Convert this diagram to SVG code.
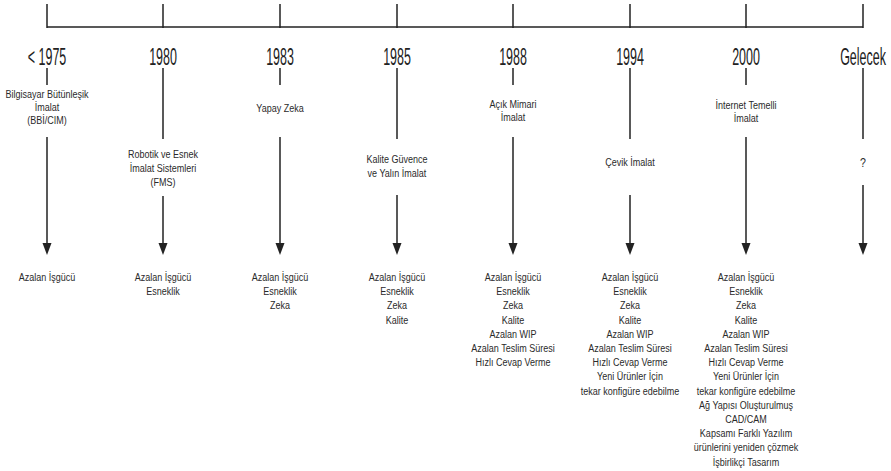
<svg xmlns="http://www.w3.org/2000/svg" width="891" height="471" viewBox="0 0 891 471">
<style>
.ln{stroke:#222;stroke-width:1.5;fill:none}
.yr{font-family:"Liberation Sans",Arial,sans-serif;font-size:24px;fill:#222;text-anchor:middle}
.tx{font-family:"Liberation Sans",Arial,sans-serif;font-size:11px;fill:#2a2a2a;text-anchor:middle}
.hd{fill:#222}
</style>
<rect width="891" height="471" fill="#fff"/>
<g id="timeline">
<line class="ln" x1="47" y1="27" x2="863" y2="27"/>
<line class="ln" x1="47" y1="4" x2="47" y2="28"/>
<line class="ln" x1="163" y1="4" x2="163" y2="28"/>
<line class="ln" x1="280" y1="4" x2="280" y2="28"/>
<line class="ln" x1="397" y1="4" x2="397" y2="28"/>
<line class="ln" x1="513" y1="4" x2="513" y2="28"/>
<line class="ln" x1="630" y1="4" x2="630" y2="28"/>
<line class="ln" x1="746" y1="4" x2="746" y2="28"/>
<line class="ln" x1="863" y1="4" x2="863" y2="28"/>
</g>
<g id="connectors">
<line class="ln" x1="47" y1="68" x2="47" y2="85"/>
<line class="ln" x1="163" y1="68" x2="163" y2="139"/>
<line class="ln" x1="280" y1="68" x2="280" y2="85"/>
<line class="ln" x1="397" y1="68" x2="397" y2="139"/>
<line class="ln" x1="513" y1="68" x2="513" y2="85"/>
<line class="ln" x1="630" y1="68" x2="630" y2="139"/>
<line class="ln" x1="746" y1="68" x2="746" y2="85"/>
<line class="ln" x1="863" y1="68" x2="863" y2="139"/>
<path d="M47,137 V244" class="ln"/><path d="M42.5,243 L51.5,243 L47,255 Z" class="hd"/>
<path d="M163,196 V244" class="ln"/><path d="M158.5,243 L167.5,243 L163,255 Z" class="hd"/>
<path d="M280,137 V244" class="ln"/><path d="M275.5,243 L284.5,243 L280,255 Z" class="hd"/>
<path d="M397,195 V244" class="ln"/><path d="M392.5,243 L401.5,243 L397,255 Z" class="hd"/>
<path d="M513,137 V244" class="ln"/><path d="M508.5,243 L517.5,243 L513,255 Z" class="hd"/>
<path d="M630,195 V244" class="ln"/><path d="M625.5,243 L634.5,243 L630,255 Z" class="hd"/>
<path d="M746,137 V244" class="ln"/><path d="M741.5,243 L750.5,243 L746,255 Z" class="hd"/>
<path d="M863,185 V244" class="ln"/><path d="M858.5,243 L867.5,243 L863,255 Z" class="hd"/>
</g>
<g id="n1975">
<text class="yr" transform="translate(47,65) scale(0.52,1)">&lt; 1975</text>
<text class="tx" transform="translate(47,98) scale(0.82,1)"><tspan x="0">Bilgisayar Bütünleşik</tspan><tspan x="0" dy="13">İmalat</tspan><tspan x="0" dy="13">(BBİ/CIM)</tspan></text>
<text class="tx" transform="translate(47,281) scale(0.82,1)"><tspan x="0">Azalan İşgücü</tspan></text>
</g>
<g id="n1980">
<text class="yr" transform="translate(163,65) scale(0.52,1)">1980</text>
<text class="tx" transform="translate(163,158) scale(0.82,1)"><tspan x="0">Robotik ve Esnek</tspan><tspan x="0" dy="14">İmalat Sistemleri</tspan><tspan x="0" dy="14">(FMS)</tspan></text>
<text class="tx" transform="translate(163,281) scale(0.82,1)"><tspan x="0">Azalan İşgücü</tspan><tspan x="0" dy="14.2">Esneklik</tspan></text>
</g>
<g id="n1983">
<text class="yr" transform="translate(280,65) scale(0.52,1)">1983</text>
<text class="tx" transform="translate(280,112) scale(0.82,1)"><tspan x="0">Yapay Zeka</tspan></text>
<text class="tx" transform="translate(280,281) scale(0.82,1)"><tspan x="0">Azalan İşgücü</tspan><tspan x="0" dy="14.2">Esneklik</tspan><tspan x="0" dy="14.2">Zeka</tspan></text>
</g>
<g id="n1985">
<text class="yr" transform="translate(397,65) scale(0.52,1)">1985</text>
<text class="tx" transform="translate(397,163) scale(0.82,1)"><tspan x="0">Kalite Güvence</tspan><tspan x="0" dy="14">ve Yalın İmalat</tspan></text>
<text class="tx" transform="translate(397,281) scale(0.82,1)"><tspan x="0">Azalan İşgücü</tspan><tspan x="0" dy="14.2">Esneklik</tspan><tspan x="0" dy="14.2">Zeka</tspan><tspan x="0" dy="14.2">Kalite</tspan></text>
</g>
<g id="n1988">
<text class="yr" transform="translate(513,65) scale(0.52,1)">1988</text>
<text class="tx" transform="translate(513,108) scale(0.82,1)"><tspan x="0">Açık Mimari</tspan><tspan x="0" dy="13">İmalat</tspan></text>
<text class="tx" transform="translate(513,281) scale(0.82,1)"><tspan x="0">Azalan İşgücü</tspan><tspan x="0" dy="14.2">Esneklik</tspan><tspan x="0" dy="14.2">Zeka</tspan><tspan x="0" dy="14.2">Kalite</tspan><tspan x="0" dy="14.2">Azalan WIP</tspan><tspan x="0" dy="14.2">Azalan Teslim Süresi</tspan><tspan x="0" dy="14.2">Hızlı Cevap Verme</tspan></text>
</g>
<g id="n1994">
<text class="yr" transform="translate(630,65) scale(0.52,1)">1994</text>
<text class="tx" transform="translate(630,166) scale(0.82,1)"><tspan x="0">Çevik İmalat</tspan></text>
<text class="tx" transform="translate(630,281) scale(0.82,1)"><tspan x="0">Azalan İşgücü</tspan><tspan x="0" dy="14.2">Esneklik</tspan><tspan x="0" dy="14.2">Zeka</tspan><tspan x="0" dy="14.2">Kalite</tspan><tspan x="0" dy="14.2">Azalan WIP</tspan><tspan x="0" dy="14.2">Azalan Teslim Süresi</tspan><tspan x="0" dy="14.2">Hızlı Cevap Verme</tspan><tspan x="0" dy="14.2">Yeni Ürünler İçin</tspan><tspan x="0" dy="14.2">tekar konfigüre edebilme</tspan></text>
</g>
<g id="n2000">
<text class="yr" transform="translate(746,65) scale(0.52,1)">2000</text>
<text class="tx" transform="translate(746,109) scale(0.82,1)"><tspan x="0">İnternet Temelli</tspan><tspan x="0" dy="13">İmalat</tspan></text>
<text class="tx" transform="translate(746,281) scale(0.82,1)"><tspan x="0">Azalan İşgücü</tspan><tspan x="0" dy="14.2">Esneklik</tspan><tspan x="0" dy="14.2">Zeka</tspan><tspan x="0" dy="14.2">Kalite</tspan><tspan x="0" dy="14.2">Azalan WIP</tspan><tspan x="0" dy="14.2">Azalan Teslim Süresi</tspan><tspan x="0" dy="14.2">Hızlı Cevap Verme</tspan><tspan x="0" dy="14.2">Yeni Ürünler İçin</tspan><tspan x="0" dy="14.2">tekar konfigüre edebilme</tspan><tspan x="0" dy="14.2">Ağ Yapısı Oluşturulmuş</tspan><tspan x="0" dy="14.2">CAD/CAM</tspan><tspan x="0" dy="14.2">Kapsamı Farklı Yazılım</tspan><tspan x="0" dy="14.2">ürünlerini yeniden çözmek</tspan><tspan x="0" dy="14.2">İşbirlikçi Tasarım</tspan></text>
</g>
<g id="nGelecek">
<text class="yr" transform="translate(863,65) scale(0.52,1)">Gelecek</text>
<text class="tx" transform="translate(863,167) scale(0.82,1)" style="font-size:13px"><tspan x="0">?</tspan></text>
</g>
</svg>
